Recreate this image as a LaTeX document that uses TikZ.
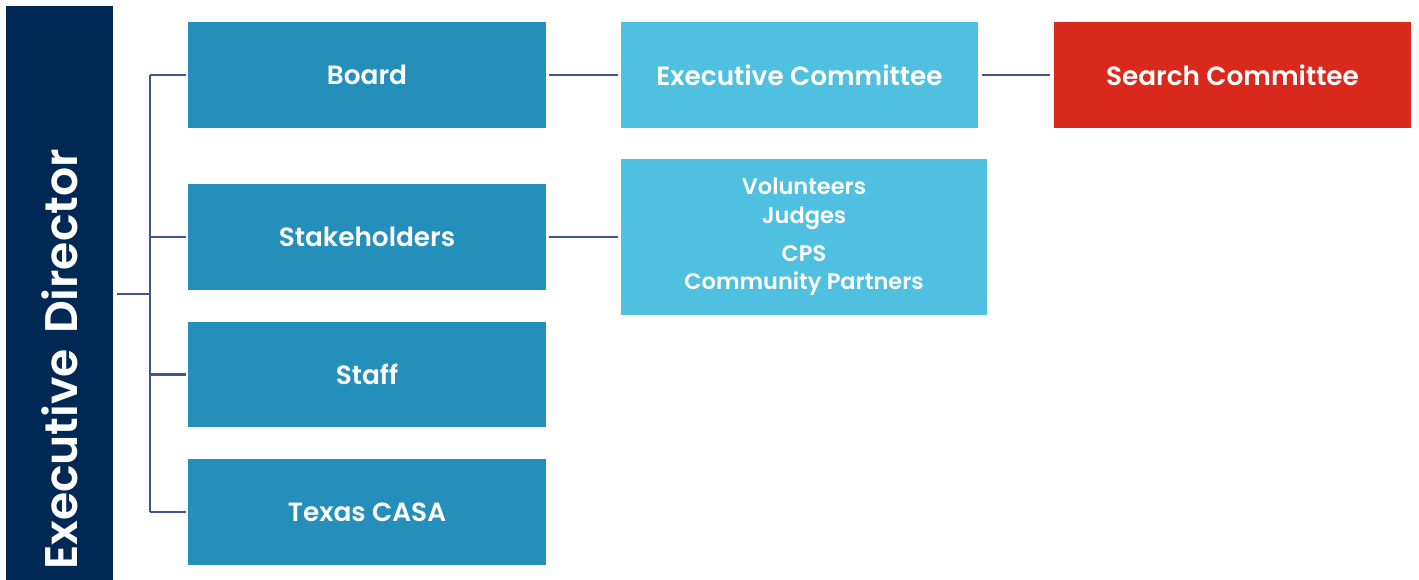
\documentclass[tikz,border=0pt]{standalone}
\usepackage{fontspec}
\setmainfont{Poppins}[BoldFont={* SemiBold}]
\usetikzlibrary{positioning}

\definecolor{navy}{HTML}{002855}
\definecolor{midblue}{HTML}{248FBA}
\definecolor{skyblue}{HTML}{4FC0E0}
\definecolor{alertred}{HTML}{D9291C}
\definecolor{linkblue}{HTML}{3F5591}

\begin{document}
\begin{tikzpicture}[x=0.02cm,y=-0.02cm,
  every node/.style={text=white,inner sep=0pt,font=\bfseries},
  unit/.style={fill=midblue,minimum width=7.16cm,minimum height=2.12cm,font=\bfseries\fontsize{15}{18}\selectfont},
  group/.style={fill=skyblue,minimum height=2.12cm,font=\bfseries\fontsize{15}{18}\selectfont},
  link/.style={draw=linkblue,line width=1.7pt}]
\useasboundingbox (0,0) rectangle (1419,580);

\node[fill=navy,rotate=90,minimum width=11.48cm,minimum height=2.14cm,
      text width=11.08cm,align=left,font=\bfseries\fontsize{26}{32}\selectfont] (ed) at (59.5,293) {Executive Director};

\node[unit] (board) at (367,75) {Board};
\node[unit] (stake) at (367,237) {Stakeholders};
\node[unit] (staff) at (367,374.5) {Staff};
\node[unit] (tcasa) at (367,512) {Texas CASA};

\node[group,minimum width=7.14cm] (exec) at (799.5,75) {Executive Committee};
\node[group,fill=alertred,minimum width=7.14cm] (search) at (1232.5,75) {Search Committee};
\node[group,minimum width=7.32cm,minimum height=3.12cm,align=center,
      font=\bfseries\fontsize{12.8}{16.4}\selectfont] (vol) at (804,237)
      {Volunteers\\Judges\\[5pt]CPS\\Community Partners};

% tree from the director
\coordinate (trunk) at (150,294);
\draw[link] ([xshift=2pt]ed.south |- trunk) -- (trunk);
\draw[link] (board.west -| trunk) -- (tcasa.west -| trunk);
\foreach \n in {board,stake,staff,tcasa}
  \draw[link] (\n.west -| trunk) -- ([xshift=-1pt]\n.west);

\draw[link] ([xshift=1.5pt]board.east) -- ([xshift=-1.5pt]exec.west);
\draw[link] ([xshift=2pt]exec.east) -- ([xshift=-2pt]search.west);
\draw[link] ([xshift=1.5pt]stake.east) -- ([xshift=-1.5pt]vol.west);
\end{tikzpicture}
\end{document}
